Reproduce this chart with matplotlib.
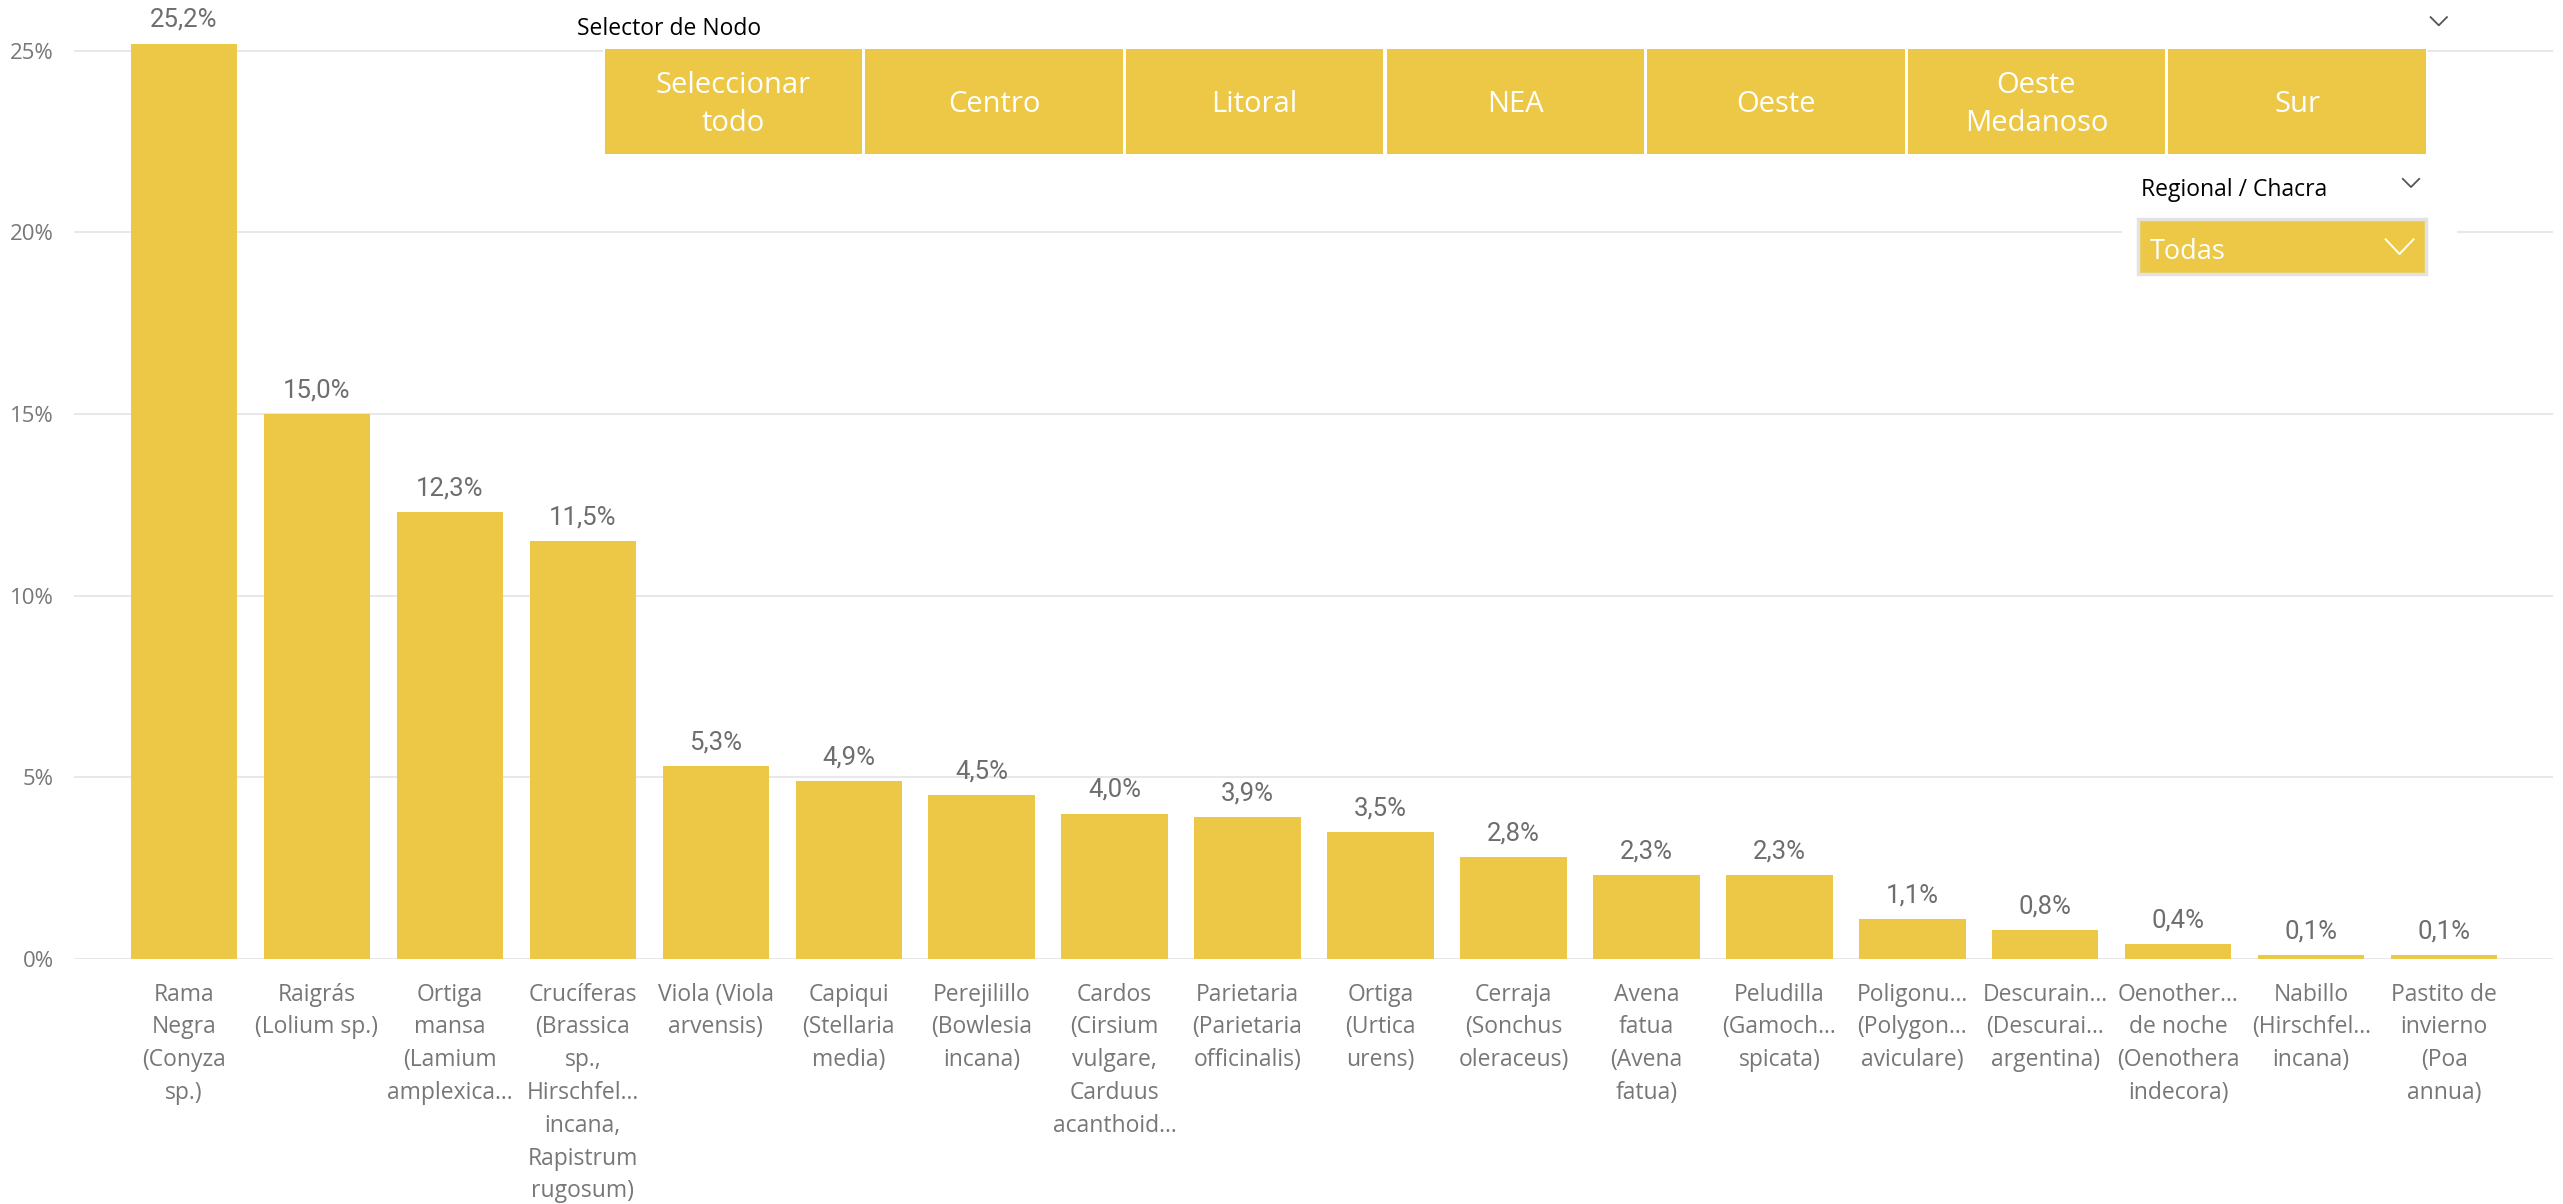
import matplotlib
matplotlib.use("Agg")
import matplotlib.pyplot as plt
from matplotlib.patches import Rectangle
from matplotlib.lines import Line2D

# datos del gráfico
species = [
    "Rama\nNegra\n(Conyza\nsp.)",
    "Raigrás\n(Lolium sp.)",
    "Ortiga\nmansa\n(Lamium\namplexica...",
    "Crucíferas\n(Brassica\nsp.,\nHirschfel...\nincana,\nRapistrum\nrugosum)",
    "Viola (Viola\narvensis)",
    "Capiqui\n(Stellaria\nmedia)",
    "Perejilillo\n(Bowlesia\nincana)",
    "Cardos\n(Cirsium\nvulgare,\nCarduus\nacanthoid...",
    "Parietaria\n(Parietaria\nofficinalis)",
    "Ortiga\n(Urtica\nurens)",
    "Cerraja\n(Sonchus\noleraceus)",
    "Avena\nfatua\n(Avena\nfatua)",
    "Peludilla\n(Gamoch...\nspicata)",
    "Poligonu...\n(Polygon...\naviculare)",
    "Descurain...\n(Descurai...\nargentina)",
    "Oenother...\nde noche\n(Oenothera\nindecora)",
    "Nabillo\n(Hirschfel...\nincana)",
    "Pastito de\ninvierno\n(Poa\nannua)",
]
share = [25.2, 15.0, 12.3, 11.5, 5.3, 4.9, 4.5, 4.0, 3.9, 3.5, 2.8, 2.3, 2.3, 1.1, 0.8, 0.4, 0.1, 0.1]
yticks = [0, 5, 10, 15, 20, 25]
nodes = ["Seleccionar\ntodo", "Centro", "Litoral", "NEA", "Oeste", "Oeste\nMedanoso", "Sur"]

YELLOW = "#ECC846"
GRAY = "#777777"
FONT = ["Open Sans", "DejaVu Sans"]

plt.rcParams["font.family"] = FONT

W, H = 1568.0, 737.0  # coordenadas de la vista de referencia


def fx(x):
    return x / W


def fy(y):
    return 1 - y / H


fig = plt.figure(figsize=(25.63, 12.04), dpi=100)
ax = fig.add_axes([fx(45), fy(587), fx(1562) - fx(45), fy(0) - fy(587)])

x = range(len(species))
ax.bar(x, share, width=0.8, color=YELLOW, zorder=2)
for i, v in enumerate(share):
    ax.annotate(f"{v:.1f}%".replace(".", ","), (i, v), xytext=(0, 8.5), textcoords="offset points",
                ha="center", va="bottom", fontsize=18.5, color="#6E6E6E", family=["Roboto", "DejaVu Sans"],
                annotation_clip=False)

ax.set_xlim(-0.83, len(species) - 1 + 0.82)
ax.set_ylim(0, 26.4)
ax.set_yticks(yticks)
ax.set_yticklabels([f"{t}%" for t in yticks])
ax.set_xticks(list(x))
ax.set_xticklabels(species, linespacing=1.49, va="top")
ax.tick_params(axis="x", length=0, pad=17, labelsize=16.5, labelcolor=GRAY)
ax.tick_params(axis="y", length=0, pad=14, labelsize=16, labelcolor=GRAY)
ax.grid(axis="y", color="#E6E6E6", linewidth=1.3, zorder=0)
for s in ax.spines.values():
    s.set_visible(False)

# segmentador "Selector de Nodo"
fig.text(fx(353), fy(17.5), "Selector de Nodo", fontsize=16.5, color="black", va="center", ha="left")


def chevron(cx, cy, w, h, color, lw):
    fig.add_artist(Line2D([fx(cx - w / 2), fx(cx), fx(cx + w / 2)], [fy(cy - h / 2), fy(cy + h / 2), fy(cy - h / 2)],
                          color=color, linewidth=lw, transform=fig.transFigure, zorder=8))


chevron(1492, 13, 10, 5, "#555555", 1.3)

x0, x1, gap = 370, 1484, 2
bw = (x1 - x0 - gap * (len(nodes) - 1)) / len(nodes)
fig.add_artist(Rectangle((fx(x0 - 1), fy(95)), fx(x1 - x0 + 2), fy(29) - fy(95),
                         facecolor="white", edgecolor="none", transform=fig.transFigure, zorder=5))
for k, name in enumerate(nodes):
    bx = x0 + k * (bw + gap)
    fig.add_artist(Rectangle((fx(bx), fy(94)), fx(bw), fy(30) - fy(94),
                             facecolor=YELLOW, edgecolor="none", transform=fig.transFigure, zorder=6))
    fig.text(fx(bx + bw / 2), fy(64), name, ha="center", va="center", fontsize=21, color="white",
             linespacing=1.42, zorder=7)

# segmentador "Regional / Chacra"
fig.add_artist(Rectangle((fx(1298), fy(174)), fx(1503 - 1298), fy(100) - fy(174),
                         facecolor="white", edgecolor="none", transform=fig.transFigure, zorder=5))
fig.text(fx(1310), fy(116.5), "Regional / Chacra", fontsize=16.5, color="black", va="center", ha="left", zorder=6)
chevron(1475, 112, 10, 5, "#555555", 1.3)
fig.add_artist(Rectangle((fx(1308), fy(168)), fx(1484 - 1308), fy(134) - fy(168),
                         facecolor=YELLOW, edgecolor="#E2E2E2", linewidth=2.5, transform=fig.transFigure, zorder=6))
fig.text(fx(1315), fy(154.5), "Todas", fontsize=19.5, color="white", va="center", ha="left", zorder=7)
chevron(1468, 151, 17, 9, "white", 1.4)

fig.savefig("out.png", dpi=100, facecolor="white")
